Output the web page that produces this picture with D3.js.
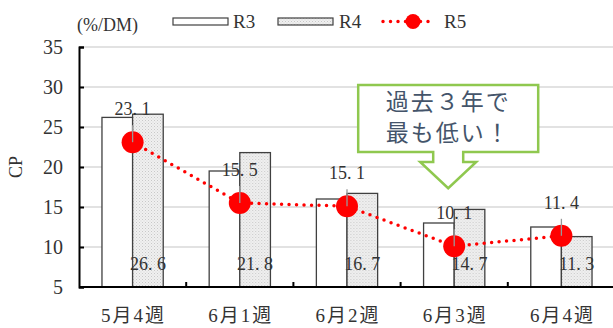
<!DOCTYPE html>
<html>
<head>
<meta charset="utf-8">
<script src="https://cdn.jsdelivr.net/npm/d3@7"></script>
<style>
  body { margin: 0; background: #fff; }
  svg { display: block; }
</style>
</head>
<body>
<div id="chart"></div>
<script>
// data
const weeks = ["5月4週", "6月1週", "6月2週", "6月3週", "6月4週"];
const r3 = [26.2, 19.5, 16.0, 13.0, 12.5];
const r4 = [26.6, 21.8, 16.7, 14.7, 11.3];
const r5 = [23.1, 15.5, 15.1, 10.1, 11.4];
const yTicks = [5, 10, 15, 20, 25, 30, 35];
const seriesNames = ["R3", "R4", "R5"];

const width = 613, height = 328;
const serif = "'Liberation Serif', 'Noto Sans CJK JP', serif";
const cjk = "'Noto Sans CJK JP', sans-serif";

const svg = d3.select("#chart").append("svg")
    .attr("width", width)
    .attr("height", height);

// dotted fill for R4
const defs = svg.append("defs");
const pat = defs.append("pattern")
    .attr("id", "dots")
    .attr("width", 3).attr("height", 3)
    .attr("patternUnits", "userSpaceOnUse");
pat.append("rect").attr("width", 3).attr("height", 3).attr("fill", "#f0f0f0");
pat.append("rect").attr("x", 0).attr("y", 0).attr("width", 1).attr("height", 1).attr("fill", "#c8c8c8");
pat.append("rect").attr("x", 1.5).attr("y", 1.5).attr("width", 1).attr("height", 1).attr("fill", "#d4d4d4");

// scales
const x = d3.scaleBand()
    .domain(weeks)
    .range([79, 615]);

const xSub = d3.scaleBand()
    .domain(["R3", "R4"])
    .range([0, x.bandwidth()])
    .paddingOuter(0.75)
    .paddingInner(0);

const y = d3.scaleLinear()
    .domain([5, 35])
    .range([287, 47]);

// gridlines
svg.append("g")
    .selectAll("line")
    .data(yTicks.filter(d => d > 5))
    .enter().append("line")
    .attr("x1", 79).attr("x2", width)
    .attr("y1", d => y(d)).attr("y2", d => y(d))
    .attr("stroke", "#d9d9d9")
    .attr("stroke-width", 1.3);

// bars
const groups = svg.append("g")
    .selectAll("g")
    .data(weeks)
    .enter().append("g")
    .attr("transform", d => `translate(${x(d)},0)`);

groups.append("rect")
    .attr("x", xSub("R3"))
    .attr("width", xSub.bandwidth())
    .attr("y", (d, i) => y(r3[i]))
    .attr("height", (d, i) => y(5) - y(r3[i]))
    .attr("fill", "#fff")
    .attr("stroke", "#404040")
    .attr("stroke-width", 1.3);

groups.append("rect")
    .attr("x", xSub("R4"))
    .attr("width", xSub.bandwidth())
    .attr("y", (d, i) => y(r4[i]))
    .attr("height", (d, i) => y(5) - y(r4[i]))
    .attr("fill", "url(#dots)")
    .attr("stroke", "#404040")
    .attr("stroke-width", 1.3);

// R4 value labels at the bottom
groups.append("text")
    .attr("x", xSub("R4") + xSub.bandwidth() / 2)
    .attr("y", 270)
    .attr("text-anchor", "middle")
    .attr("font-family", serif)
    .attr("font-size", 18)
    .attr("fill", "#333")
    .text((d, i) => r4[i].toFixed(1).replace(".", ". "));

// axes
svg.append("g")
    .attr("transform", "translate(79,0)")
    .call(d3.axisLeft(y).tickValues(yTicks).tickSize(-5).tickPadding(16).tickFormat(d3.format("d")))
    .call(g => g.select(".domain").attr("stroke", "#000").attr("stroke-width", 2))
    .call(g => g.selectAll(".tick line").attr("stroke", "#000").attr("stroke-width", 2))
    .call(g => g.selectAll(".tick text")
        .attr("font-family", serif)
        .attr("font-size", 20)
        .attr("fill", "#333"));

const xAxis = svg.append("g")
    .attr("transform", `translate(0,${y(5)})`);
xAxis.append("line")
    .attr("x1", 79).attr("x2", width)
    .attr("stroke", "#000").attr("stroke-width", 2);
xAxis.selectAll(".tk")
    .data(weeks.slice(1))
    .enter().append("line")
    .attr("class", "tk")
    .attr("x1", d => x(d)).attr("x2", d => x(d))
    .attr("y1", 0).attr("y2", -5)
    .attr("stroke", "#000").attr("stroke-width", 2);
xAxis.selectAll("text")
    .data(weeks)
    .enter().append("text")
    .attr("x", d => x(d) + x.bandwidth() / 2 + 1)
    .attr("y", 35)
    .attr("text-anchor", "middle")
    .attr("font-family", serif)
    .attr("font-size", 19)
    .attr("letter-spacing", 2)
    .attr("fill", "#333")
    .text(d => d);

// axis titles
svg.append("text")
    .attr("transform", `translate(22,${y(20)}) rotate(-90)`)
    .attr("text-anchor", "middle")
    .attr("font-family", serif)
    .attr("font-size", 18)
    .attr("fill", "#333")
    .text("CP");

svg.append("text")
    .attr("x", 77).attr("y", 31)
    .attr("font-family", serif)
    .attr("font-size", 18)
    .attr("fill", "#333")
    .text("(%/DM)");

// R5 line
const cx = d => x(d) + x.bandwidth() / 2;
const line = d3.line()
    .x(d => cx(d))
    .y((d, i) => y(r5[i]));

svg.append("path")
    .datum(weeks)
    .attr("fill", "none")
    .attr("stroke", "#ff0000")
    .attr("stroke-width", 3.5)
    .attr("stroke-linecap", "round")
    .attr("stroke-dasharray", "0,7.5")
    .attr("d", line);

svg.append("g")
    .selectAll("circle")
    .data(weeks)
    .enter().append("circle")
    .attr("cx", d => cx(d))
    .attr("cy", (d, i) => y(r5[i]))
    .attr("r", 11)
    .attr("fill", "#ff0000");

// gray leader lines over the points
svg.append("g")
    .selectAll("line")
    .data(weeks)
    .enter().append("line")
    .attr("x1", d => cx(d)).attr("x2", d => cx(d))
    .attr("y1", (d, i) => y(r5[i]))
    .attr("y2", (d, i) => y(r5[i]) - 17)
    .attr("stroke", "#999")
    .attr("stroke-width", 1.3);

svg.append("g")
    .selectAll("text")
    .data(weeks)
    .enter().append("text")
    .attr("x", d => cx(d))
    .attr("y", (d, i) => y(r5[i]) - 27)
    .attr("text-anchor", "middle")
    .attr("font-family", serif)
    .attr("font-size", 18)
    .attr("fill", "#333")
    .text((d, i) => r5[i].toFixed(1).replace(".", ". "));

// legend
const legend = svg.append("g");
legend.append("rect")
    .attr("x", 173).attr("y", 18).attr("width", 55).attr("height", 7)
    .attr("fill", "#fff").attr("stroke", "#404040").attr("stroke-width", 1.2);
legend.append("rect")
    .attr("x", 278).attr("y", 18).attr("width", 55).attr("height", 7)
    .attr("fill", "url(#dots)").attr("stroke", "#404040").attr("stroke-width", 1.2);
legend.append("line")
    .attr("x1", 383).attr("x2", 435).attr("y1", 21.5).attr("y2", 21.5)
    .attr("stroke", "#ff0000").attr("stroke-width", 3.5)
    .attr("stroke-linecap", "round").attr("stroke-dasharray", "0,7.5");
legend.append("circle")
    .attr("cx", 413).attr("cy", 21.5).attr("r", 7.5).attr("fill", "#ff0000");
legend.selectAll("text")
    .data(seriesNames)
    .enter().append("text")
    .attr("x", (d, i) => [233, 339, 444][i])
    .attr("y", 28)
    .attr("font-family", serif)
    .attr("font-size", 19)
    .attr("fill", "#333")
    .text(d => d);

// callout
const tipX = cx("6月3週") - 6;
const tipY = y(r5[3]) - 58;
const boxL = tipX - 90, boxR = tipX + 90, boxT = 85, boxB = 152;
const callout = [
    [boxL, boxT], [boxR, boxT], [boxR, boxB], [tipX + 15, boxB],
    [tipX + 15, boxB + 10], [tipX + 28, boxB + 10], [tipX, tipY],
    [tipX - 28, boxB + 10], [tipX - 15, boxB + 10], [tipX - 15, boxB],
    [boxL, boxB]
];
svg.append("path")
    .attr("d", d3.line()(callout) + "Z")
    .attr("fill", "#fff")
    .attr("stroke", "#8fc84f")
    .attr("stroke-width", 2.5);

svg.append("text")
    .attr("x", tipX).attr("y", 110)
    .attr("text-anchor", "middle")
    .attr("font-family", cjk)
    .attr("font-size", 23)
    .attr("letter-spacing", 2)
    .attr("fill", "#44546a")
    .text("過去３年で");
svg.append("text")
    .attr("x", tipX).attr("y", 141)
    .attr("text-anchor", "middle")
    .attr("font-family", cjk)
    .attr("font-size", 23)
    .attr("letter-spacing", 2)
    .attr("fill", "#44546a")
    .text("最も低い！");
</script>
</body>
</html>
